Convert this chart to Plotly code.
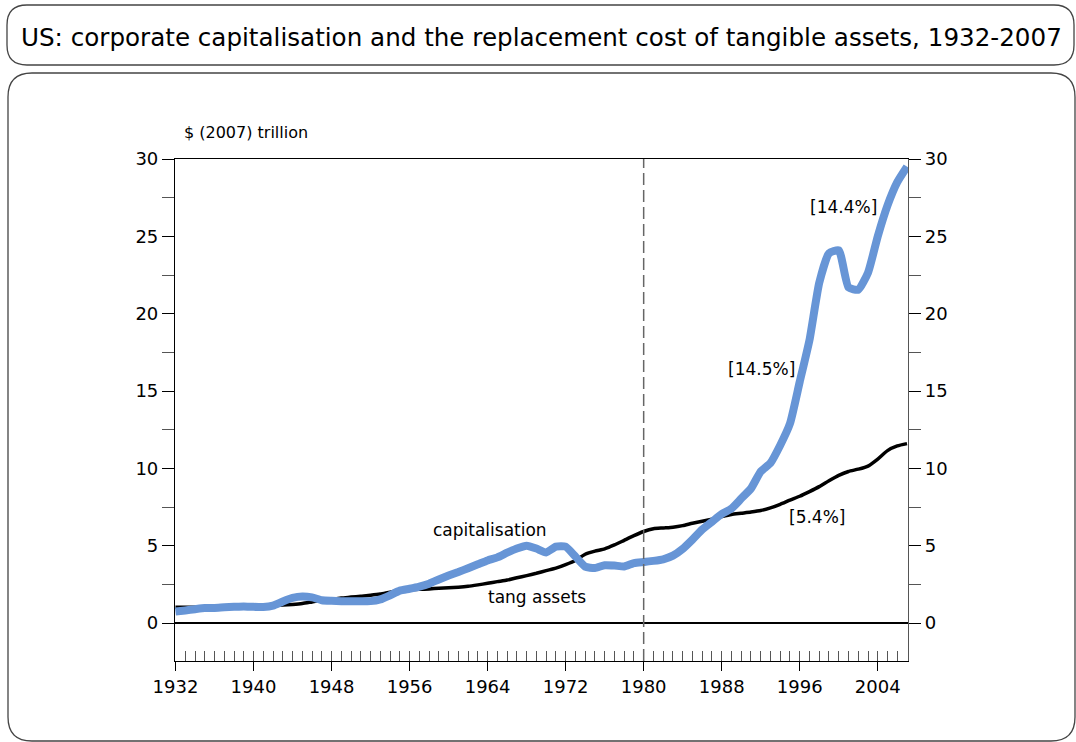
import plotly.graph_objects as go

years = list(range(1932, 2008))

capitalisation = [
    0.75, 0.82, 0.90, 0.97, 0.98, 1.02, 1.05, 1.08, 1.05, 1.04,
    1.13, 1.40, 1.63, 1.72, 1.66, 1.48, 1.44, 1.42, 1.42, 1.42,
    1.42, 1.53, 1.80, 2.10, 2.22, 2.36, 2.55, 2.82, 3.07, 3.30,
    3.55, 3.80, 4.05, 4.25, 4.55, 4.82, 5.00, 4.82, 4.57, 4.94,
    4.94, 4.30, 3.65, 3.56, 3.74, 3.72, 3.66, 3.88, 3.95, 4.02,
    4.12, 4.36, 4.80, 5.40, 6.05, 6.55, 7.05, 7.40, 8.05, 8.70,
    9.80, 10.35, 11.50, 12.90, 15.60, 18.30, 22.00, 23.90, 24.10, 21.70,
    21.55, 22.65, 25.00, 27.00, 28.50, 29.50,
]

tang_assets = [
    1.02, 1.03, 1.03, 1.04, 1.05, 1.06, 1.07, 1.08, 1.09, 1.10,
    1.13, 1.17, 1.21, 1.27, 1.37, 1.47, 1.54, 1.62, 1.68, 1.74,
    1.80, 1.88, 2.00, 2.10, 2.15, 2.18, 2.21, 2.25, 2.28, 2.32,
    2.38, 2.47, 2.57, 2.68, 2.78, 2.93, 3.07, 3.22, 3.39, 3.55,
    3.78, 4.05, 4.45, 4.65, 4.80, 5.05, 5.35, 5.65, 5.92, 6.10,
    6.15, 6.20, 6.30, 6.45, 6.58, 6.72, 6.88, 7.02, 7.10, 7.18,
    7.28, 7.45, 7.68, 7.95, 8.20, 8.50, 8.82, 9.20, 9.55, 9.80,
    9.95, 10.15, 10.60, 11.15, 11.45, 11.60,
]

# growth-rate labels: (text, year, value)
rate_labels = [("[14.5%]", 1992.1, 16.4), ("[14.4%]", 2000.5, 26.9), ("[5.4%]", 1997.8, 6.85)]
series_labels = [("capitalisation", 1964.2, 6.0), ("tang assets", 1969.1, 1.68)]

FONT = "DejaVu Sans"
W, H = 1076, 742
L, R, T, B = 175, 908, 159, 661


def px(x, y):
    return (x - L) / (R - L), (B - y) / (B - T)


def rounded_box(x0, y0, x1, y1, r):
    def p(x, y):
        a, b = px(x, y)
        return f"{a:.5f},{b:.5f}"
    return " ".join([
        f"M{p(x0 + r, y0)}", f"L{p(x1 - r, y0)}", f"Q{p(x1, y0)} {p(x1, y0 + r)}",
        f"L{p(x1, y1 - r)}", f"Q{p(x1, y1)} {p(x1 - r, y1)}",
        f"L{p(x0 + r, y1)}", f"Q{p(x0, y1)} {p(x0, y1 - r)}",
        f"L{p(x0, y0 + r)}", f"Q{p(x0, y0)} {p(x0 + r, y0)}Z",
    ])


fig = go.Figure()

fig.add_trace(go.Scatter(x=years, y=tang_assets, mode="lines", name="tang assets",
                         line=dict(color="black", width=3.5, shape="spline", smoothing=0.6)))
fig.add_trace(go.Scatter(x=years, y=capitalisation, mode="lines", name="capitalisation",
                         line=dict(color="#6795D6", width=8, shape="spline", smoothing=0.5)))
# empty trace so the overlay axes get drawn
fig.add_trace(go.Scatter(x=[], y=[], xaxis="x2", yaxis="y2", showlegend=False))

for text, x, y in series_labels + rate_labels:
    fig.add_annotation(x=x, y=y, text=text, showarrow=False,
                       font=dict(family=FONT, size=17, color="black"))

title_pos = px(541, 37)
fig.add_annotation(xref="paper", yref="paper", x=title_pos[0], y=title_pos[1],
                   xanchor="center", yanchor="middle",
                   text="US: corporate capitalisation and the replacement cost of tangible assets, 1932-2007",
                   showarrow=False, font=dict(family=FONT, size=24.6, color="black"))
unit_pos = px(182, 132)
fig.add_annotation(xref="paper", yref="paper", x=unit_pos[0], y=unit_pos[1],
                   xanchor="left", yanchor="middle",
                   text="$ (2007) trillion", showarrow=False,
                   font=dict(family=FONT, size=16, color="black"))

fig.add_shape(type="path", xref="paper", yref="paper", path=rounded_box(7, 5, 1074, 65, 20),
              line=dict(color="#444", width=1.3), layer="below")
fig.add_shape(type="path", xref="paper", yref="paper", path=rounded_box(8, 73, 1075, 741, 24),
              line=dict(color="#444", width=1.3), layer="below")
fig.add_shape(type="line", xref="x", yref="paper", x0=1980, x1=1980, y0=0, y1=1,
              line=dict(color="#666", width=1.5, dash="12px,5px"))

tick_font = dict(family=FONT, size=18, color="black")
fig.update_layout(
    width=W, height=H,
    margin=dict(l=L, r=W - R, t=T, b=H - B),
    paper_bgcolor="white", plot_bgcolor="white",
    showlegend=False,
    xaxis=dict(range=[1931.95, 2007.1], tick0=1932, dtick=8, ticks="outside", ticklen=9,
               tickcolor="black", showline=True, linecolor="black", linewidth=1.2,
               mirror=True, showgrid=False, zeroline=False, tickfont=tick_font),
    xaxis2=dict(overlaying="x", matches="x", anchor="y", side="bottom", tick0=1932, dtick=1,
                ticks="inside", ticklen=10, tickcolor="#555", showticklabels=False,
                showgrid=False, zeroline=False, showline=False),
    yaxis=dict(range=[-2.45, 30], tick0=0, dtick=5, ticks="outside", ticklen=12,
               tickcolor="black", showline=True, linecolor="black", linewidth=1.2,
               showgrid=False, zeroline=True, zerolinecolor="black", zerolinewidth=2,
               tickfont=tick_font,
               minor=dict(dtick=2.5, tick0=0, ticks="outside", ticklen=12, tickcolor="#555")),
    yaxis2=dict(overlaying="y", matches="y", side="right", anchor="x", tick0=0, dtick=5,
                ticks="outside", ticklen=12, tickcolor="black", showline=True,
                linecolor="#555", linewidth=1.2, showgrid=False, zeroline=False,
                tickfont=tick_font,
                minor=dict(dtick=2.5, tick0=0, ticks="outside", ticklen=12, tickcolor="#555")),
)

# drop the browser's default body margin so the figure sits at the page origin
fig.write_html("out.html", config={"displayModeBar": False},
               post_script="document.body.style.margin='0';")
